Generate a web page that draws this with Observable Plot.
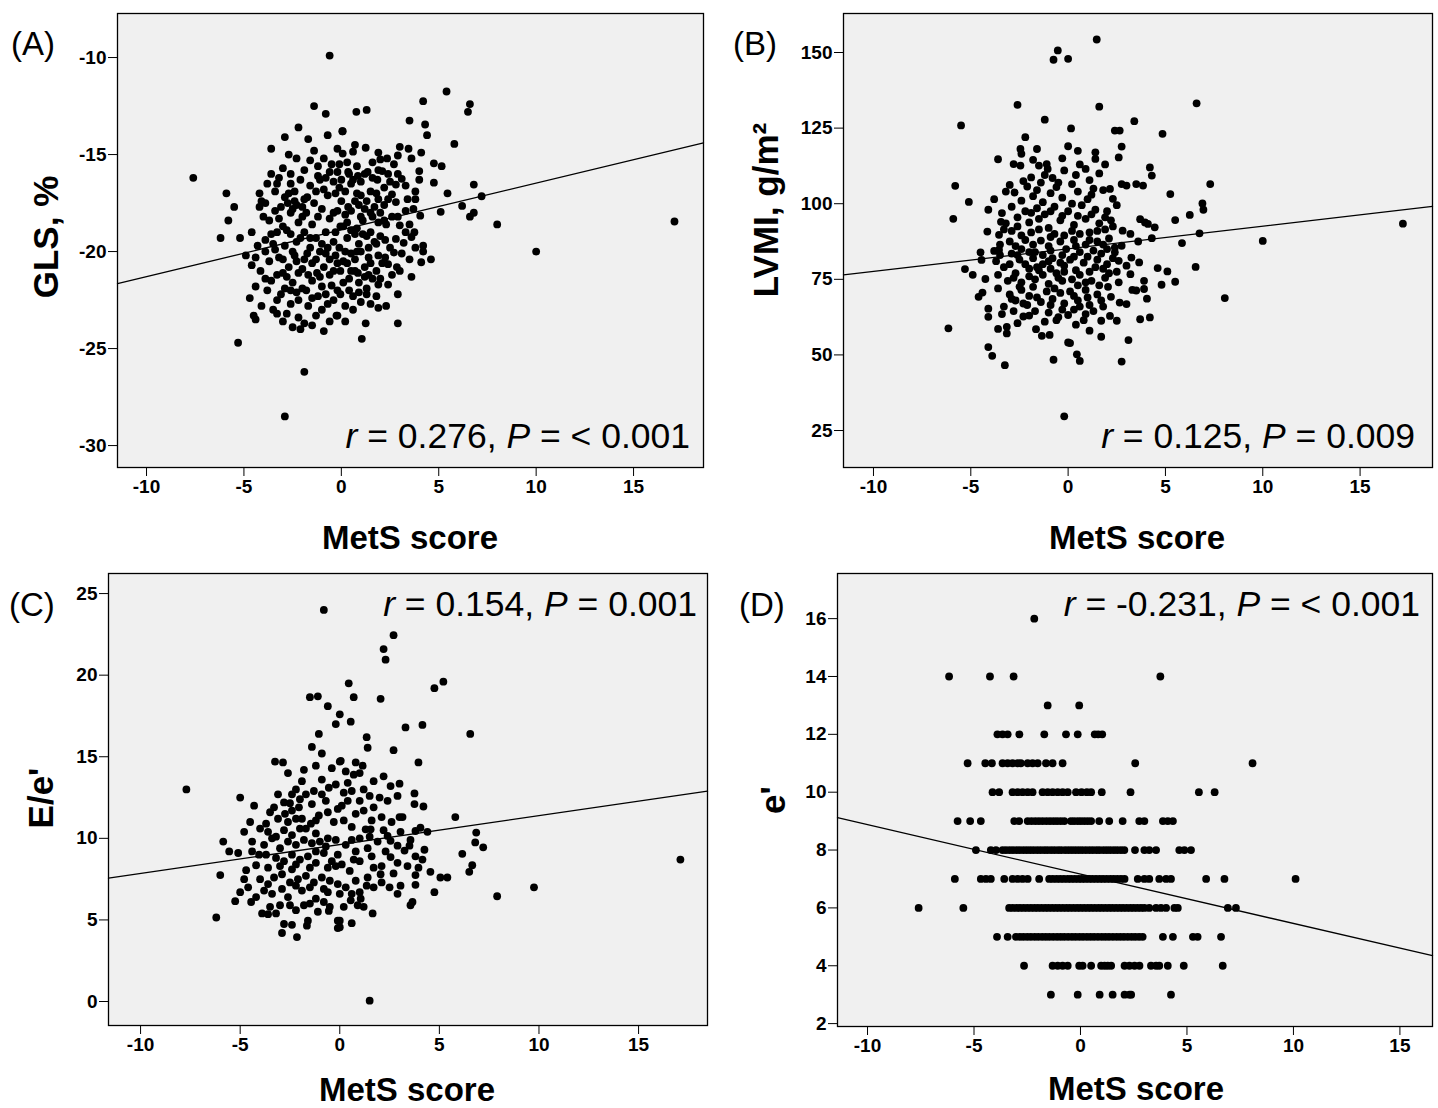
<!DOCTYPE html>
<html>
<head>
<meta charset="utf-8">
<script src="https://cdn.jsdelivr.net/npm/d3@7"></script>
<script src="https://cdn.jsdelivr.net/npm/@observablehq/plot@0.6"></script>
<style>
  body { margin:0; background:#fff; width:1438px; height:1108px; position:relative; overflow:hidden;
         font-family:"Liberation Sans", Arial, sans-serif; color:#000; }
  .panel { position:absolute; }
  .txt { position:absolute; white-space:nowrap; line-height:1; }
  .plab { font-size:33px; }
  .xtitle { font-size:33px; font-weight:bold; transform:translate(-50%,-50%); }
  .ytitle { font-size:35px; font-weight:bold; transform:translate(-50%,-50%) rotate(-90deg); }
  .ann { font-size:35.5px; transform:translate(-100%,-50%); }
</style>
</head>
<body>
<div id="pA" class="panel" style="left:0px;top:0px"></div>
<div id="pB" class="panel" style="left:726px;top:0px"></div>
<div id="pC" class="panel" style="left:0px;top:560px"></div>
<div id="pD" class="panel" style="left:726px;top:560px"></div>

<div class="txt plab" style="left:11px;top:27px">(A)</div>
<div class="txt plab" style="left:733px;top:27px">(B)</div>
<div class="txt plab" style="left:9px;top:588px">(C)</div>
<div class="txt plab" style="left:739px;top:588px">(D)</div>

<div class="txt xtitle" style="left:410px;top:537px">MetS score</div>
<div class="txt xtitle" style="left:1137px;top:537px">MetS score</div>
<div class="txt xtitle" style="left:407px;top:1089px">MetS score</div>
<div class="txt xtitle" style="left:1136px;top:1088px">MetS score</div>

<div class="txt ytitle" style="left:45px;top:237px">GLS, %</div>
<div class="txt ytitle" style="left:765px;top:210px">LVMI, g/m²</div>
<div class="txt ytitle" style="left:40px;top:798px">E/e'</div>
<div class="txt ytitle" style="left:772px;top:800px">e'</div>

<div class="txt ann" style="left:690px;top:437px"><i>r</i> = 0.276, <i>P</i> = &lt; 0.001</div>
<div class="txt ann" style="left:1415px;top:437px"><i>r</i> = 0.125, <i>P</i> = 0.009</div>
<div class="txt ann" style="left:697px;top:605px"><i>r</i> = 0.154, <i>P</i> = 0.001</div>
<div class="txt ann" style="left:1420px;top:605px"><i>r</i> = -0.231, <i>P</i> = &lt; 0.001</div>

<script>
// ---------- DATA: [MetS score, outcome] ----------
const glsPoints = [
[-7.6,-16.2],[-5.9,-17.0],[-5.5,-17.7],[-5.8,-18.4],[-6.2,-19.3],[-5.2,-19.3],[-4.9,-20.2],[-4.6,-20.7],[-4.4,-21.8],[-4.7,-22.4],[-4.5,-23.3],[-4.4,-23.5],[-5.3,-24.7],[-1.9,-26.2],[-2.9,-28.5],
[-0.6,-9.9],[-1.4,-12.5],[-0.8,-12.9],[-2.2,-13.6],[-2.9,-14.1],[-1.7,-14.2],[-3.6,-14.7],[-2.7,-15.0],[-2.3,-15.2],[0.05,-13.8],[-0.2,-14.7],[-0.9,-15.2],[-0.5,-15.5],[-3.6,-16.0],[-3.2,-16.2],[-3.3,-16.5],[-4.2,-17.0],[-4.1,-17.4],[-4.2,-17.7],[-3.1,-17.7],[-2.4,-16.9],[-2.1,-16.3],[-1.2,-16.1],[-2.75,-17.5],[-3.9,-19.4],[-3.3,-19.0],[-3.6,-19.1],
[-4.15,-21.0],[-3.0,-21.1],[-3.1,-22.2],[-3.3,-22.5],[-2.8,-23.2],[-2.5,-23.9],[-2.2,-23.4],[-1.9,-23.7],[-1.5,-23.8],[-1.7,-22.8],[-2.2,-22.5],[-0.7,-22.7],[-0.25,-23.3],[-1.25,-21.1],[-0.8,-20.1],[-1.75,-20.1],[-2.3,-20.5],[-3.7,-20.5],[-3.4,-19.9],[-2.6,-19.1],[-2.0,-18.2],[-1.4,-17.5],[-1.1,-16.3],[-0.7,-17.1],[-0.2,-17.9],[-0.05,-18.7],[-1.75,-17.2],[-3.0,-18.7],[-0.05,-21.0],[-0.5,-21.75],[-0.05,-22.2],
[-2.9,-17.2],[-2.5,-17.8],[-2.2,-18.5],[-1.8,-18.0],[-1.5,-18.6],[-1.0,-17.8],[-0.6,-18.3],[-0.3,-17.0],[-0.4,-16.4],[-0.9,-16.8],[-1.6,-16.6],[-2.6,-16.5],[-3.4,-17.9],[-3.7,-18.4],[-2.8,-18.9],[-2.3,-19.5],[-1.9,-19.0],[-1.3,-19.3],[-0.8,-19.0],[-0.4,-19.5],[-0.1,-19.8],[-0.6,-20.4],[-1.1,-20.0],[-1.5,-20.6],[-2.0,-20.9],[-2.7,-20.8],[-3.2,-20.3],[-3.6,-21.5],[-2.5,-21.6],[-2.0,-21.9],[-1.5,-21.5],[-1.0,-21.8],[-0.6,-21.2],[-0.2,-20.6],[-1.2,-22.3],[-2.6,-22.0],[-3.8,-22.0],[-3.5,-23.0],[-1.0,-23.0],[-0.4,-22.5],[-2.4,-17.4],[-1.2,-15.6],[-1.9,-15.8],[-0.2,-15.9],[-3.0,-15.7],[-2.6,-16.0],[-4.0,-18.2],[-3.9,-20.0],[-4.3,-19.7],[-1.6,-19.8],[-2.4,-20.2],[-0.9,-20.8],[-1.8,-22.0],[-3.0,-23.6],[-2.1,-24.0],[-4.1,-22.8],[-0.9,-24.1],
[5.4,-11.75],[4.2,-12.25],[6.6,-12.4],[6.5,-12.8],[0.77,-12.8],[1.3,-12.7],[3.5,-13.25],[4.3,-13.45],[4.4,-14.0],[0.07,-13.8],[5.8,-14.45],[1.25,-14.65],[3.0,-14.6],[3.45,-14.7],[4.1,-14.9],[2.9,-15.05],[3.6,-15.2],[2.0,-15.25],[2.35,-15.2],[2.7,-15.5],[4.75,-15.45],[5.15,-15.6],[0.6,-14.85],[0.07,-14.95],[2.1,-15.85],[4.0,-15.85],[3.1,-16.25],[4.0,-16.3],[6.8,-16.55],[4.75,-16.45],[2.8,-16.55],[3.8,-16.9],[3.8,-17.3],[5.45,-17.0],[7.2,-17.15],[2.6,-17.05],[2.8,-17.45],[6.2,-17.65],[5.1,-17.95],[3.3,-17.9],[3.7,-17.8],[6.8,-18.0],[6.6,-18.2],[8.0,-18.6],[4.05,-18.15],[3.5,-18.6],[3.0,-18.65],[3.75,-19.0],[3.6,-19.25],[2.25,-19.4],[2.8,-19.35],[3.2,-19.55],[3.8,-19.8],[4.2,-19.7],[4.2,-20.0],[2.7,-20.05],[3.1,-20.1],[2.25,-20.3],[4.1,-20.55],[4.6,-20.4],[2.85,-20.8],[3.0,-21.0],[2.4,-20.65],[1.8,-21.0],[2.6,-21.2],[2.4,-21.7],[1.9,-21.7],[1.3,-21.9],[1.3,-22.2],[1.8,-22.3],[1.9,-22.9],[0.2,-22.8],[-0.2,-23.3],[1.25,-23.7],[2.9,-23.7],[1.05,-24.5],[1.4,-21.2],[0.85,-21.1],[0.5,-21.0],[0.1,-20.5],[0.5,-20.1],[1.0,-20.0],[1.5,-20.6],[1.7,-19.5],[1.3,-19.2],[0.7,-19.1],[0.1,-18.7],[1.9,-18.5],[2.2,-18.4],[1.0,-18.2],[1.5,-18.0],[2.2,-17.6],[1.9,-17.3],[1.5,-16.9],[1.0,-17.1],[0.5,-16.5],[0.0,-16.3],[1.85,-16.3],[2.2,-16.7],[1.35,-15.9],[0.85,-16.1],[0.35,-15.9],[-0.1,-15.5],[0.7,-17.4],[0.35,-17.7],[1.2,-17.8],
[0.3,-15.4],[0.8,-15.6],[1.6,-15.4],[0.4,-16.0],[1.0,-16.4],[1.6,-16.2],[2.4,-16.0],[0.2,-16.9],[0.8,-17.0],[1.3,-17.4],[1.8,-17.0],[2.4,-17.3],[0.0,-17.4],[0.5,-17.9],[1.1,-18.4],[1.6,-18.2],[2.0,-18.0],[2.6,-18.2],[0.3,-18.5],[0.8,-18.8],[1.5,-19.0],[2.0,-19.2],[0.3,-19.3],[0.9,-19.6],[1.4,-19.8],[1.9,-20.2],[0.2,-20.0],[0.7,-20.4],[1.2,-20.8],[0.4,-21.4],[0.9,-21.6],[1.6,-21.4],[0.6,-22.3],[1.0,-22.6],[0.2,-23.6],[2.3,-22.8],
[-2.7,-17.0],[-2.3,-17.6],[-1.9,-17.3],[-1.3,-16.9],[-0.8,-16.2],[-0.1,-16.7],[0.6,-16.3],[1.2,-16.0],[1.9,-15.8],[2.5,-16.4],[-3.2,-18.3],[-2.6,-18.0],[-2.0,-17.7],[-1.2,-18.2],[-0.4,-18.0],[0.2,-18.1],[0.9,-17.6],[1.7,-17.7],[2.3,-18.6],[-3.5,-19.6],[-2.9,-19.7],[-2.1,-19.3],[-1.6,-19.3],[-1.0,-19.6],[-0.3,-19.0],[0.5,-18.9],[1.1,-19.1],[1.8,-19.6],[2.5,-19.8],[-3.0,-20.4],[-2.5,-20.0],[-1.9,-20.4],[-1.3,-20.4],[-0.7,-19.8],[-0.3,-20.2],[0.3,-20.6],[0.8,-20.0],[1.4,-20.3],[2.1,-20.6],[-3.3,-21.2],[-2.8,-21.3],[-2.2,-21.1],[-1.7,-21.2],[-1.1,-21.3],[-0.4,-21.0],[0.1,-21.6],[0.7,-21.0],[1.2,-21.3],[2.0,-21.4],[-2.9,-21.9],[-2.3,-22.1],[-1.5,-22.4],[-0.8,-22.2],[-0.2,-22.0],[0.4,-22.0],[0.9,-22.1],[1.5,-22.7],[-3.3,-23.2],[-2.6,-22.7],[-1.3,-23.3],[-0.6,-23.6],[0.6,-23.0],[-3.8,-16.5],[-3.9,-17.5],[-3.4,-16.9],[-1.6,-15.3],[-0.6,-15.9],[0.7,-14.5],[1.9,-14.9],[-1.4,-14.8],[-0.7,-14.0],[2.9,-16.0],[3.3,-16.6],[3.4,-17.3],[2.9,-18.2],[3.3,-19.0],[3.5,-20.4],[3.6,-21.3],[2.9,-22.2],[-4.6,-19.0],[-4.4,-20.3],[-3.9,-21.4],
[10.0,-20.0],[17.1,-18.45]
];

const lvmiPoints = [
[-0.53,150.7],[-0.75,147.6],[0.0,147.9],[1.47,154.3],[-2.6,132.7],[-5.5,125.9],[-1.2,127.8],[-2.2,122.0],[-2.45,118.1],[-2.4,116.5],[-1.6,118.1],[-3.6,114.7],[-2.8,113.1],[-2.45,112.6],[-1.5,112.6],[-1.1,113.1],[-1.05,111.5],[-1.9,108.7],[-1.4,107.0],[-3.0,106.2],[-3.2,104.0],[-2.1,105.7],[-2.75,103.7],[-5.8,105.9],[-5.1,100.6],[-5.9,95.0],[-4.1,98.0],[-3.4,96.9],[-3.45,94.0],[-4.15,90.8],[-3.55,89.7],[-4.5,83.9],[-4.45,81.4],[-3.8,84.4],[-3.55,84.7],[-5.3,78.4],[-4.9,76.5],[-4.25,75.1],[-4.6,69.2],[-4.4,70.6],[-4.1,65.3],[-4.1,62.6],[-6.15,58.8],[-3.6,58.6],[-3.15,59.3],[-3.15,57.1],[-4.1,52.6],[-3.9,49.7],[-3.25,46.6],[-0.75,48.4],[-0.2,29.7],[-1.65,58.5],[-1.35,56.3],[-0.95,56.6],[-2.3,62.7],[0.0,54.1],[0.0,63.2],[-0.6,61.5],
[-3.0,70.0],[-2.7,68.0],[-2.4,71.5],[-2.1,66.5],[-3.3,66.0],[-2.8,64.5],[-2.0,69.5],[-3.6,72.0],
[-3.2,93.5],[-2.6,92.5],[-2.0,93.8],[-1.5,95.0],[-1.0,92.0],[-2.4,85.0],[-1.7,84.0],[-1.0,86.0],[-0.4,87.5],
[-3.3,79.0],[-2.7,77.0],[-2.0,78.5],[-1.3,80.0],[-0.6,77.0],[-0.2,79.5],
[1.6,132.1],[6.6,133.2],[3.4,127.3],[4.85,123.1],[0.15,124.9],[2.4,124.2],[2.65,124.2],[2.75,118.9],[2.6,115.3],[0.0,119.0],[0.5,117.5],[1.4,117.0],[1.4,114.8],[4.2,112.0],[4.3,109.3],[7.3,106.5],[2.75,106.5],[3.0,106.0],[3.5,106.5],[3.85,106.0],[5.25,103.2],[2.15,104.9],[2.3,101.6],[6.9,100.1],[6.95,98.0],[6.25,96.3],[5.5,94.6],[3.7,94.9],[3.95,93.8],[4.1,93.3],[4.45,92.2],[2.8,91.1],[3.2,90.0],[6.75,90.2],[4.3,88.6],[3.6,87.5],[5.85,87.0],[2.75,86.1],[2.4,83.9],[2.6,81.1],[3.25,82.2],[3.0,79.5],[3.2,76.7],[3.65,80.6],[4.6,78.7],[5.1,77.6],[6.55,79.1],[4.8,73.2],[5.5,74.2],[8.05,68.8],[3.9,74.5],[3.9,71.8],[3.3,71.5],[3.5,71.3],[4.05,68.6],[2.65,67.3],[3.0,66.8],[2.05,72.5],[2.2,69.2],[3.7,61.8],[4.2,62.4],[2.5,61.3],[2.15,62.9],[1.7,61.3],[1.7,56.0],[3.1,54.9],[0.1,53.9],[0.45,50.2],[0.6,48.0],[2.75,47.8],[10.0,87.7],[17.2,93.4],
[-0.8,108.5],[0.4,109.5],[1.1,107.8],[-0.2,111.0],[0.9,111.5],[1.6,110.0],
[-1.8,102.5],[-0.9,103.5],[-0.3,102.0],[0.5,104.0],[1.2,103.0],[1.8,104.5],[-2.4,101.0],[-1.3,100.5],
[-2.9,99.0],[-2.2,97.5],[-1.6,98.5],[-0.7,99.0],[0.0,97.5],[0.7,99.5],[1.4,98.0],[2.0,97.5],[2.5,99.5],[-3.8,101.5],
[-0.4,94.5],[0.3,93.0],[0.9,95.0],[1.6,93.5],[2.2,94.5],[-2.9,91.0],[-1.9,90.5],[-0.7,90.0],[0.2,91.0],[1.1,90.5],[1.9,91.5],
[-3.0,87.5],[-2.2,88.0],[-1.4,87.8],[0.3,88.0],[0.9,86.5],[1.5,87.5],[2.1,88.5],[-0.1,85.0],[0.6,84.0],[1.3,84.5],[2.0,85.0],[-1.3,83.0],[-2.9,83.5],
[-3.7,81.0],[-2.5,81.5],[-1.8,82.0],[-0.8,82.0],[0.1,81.5],[0.8,80.5],[1.5,81.5],[2.0,80.0],[-1.5,78.0],[0.4,78.0],[1.1,77.5],[1.8,78.5],[2.5,77.5],
[-3.1,74.5],[-2.4,74.0],[-1.7,75.0],[-1.0,73.5],[-0.3,74.5],[0.5,73.0],[1.2,74.5],[1.9,75.5],[2.6,74.0],[-0.7,72.0],[0.1,71.0],[0.9,71.5],[1.5,70.0],
[-1.4,67.5],[-0.8,68.5],[-0.2,67.0],[0.5,68.0],[1.1,66.5],[1.8,66.0],[-1.7,64.5],[-1.0,64.0],[0.3,65.0],[0.9,63.5],[-2.6,60.5],[-1.2,61.0],[0.4,60.0],[1.1,58.0],
[-2.3,107.5],[-1.6,104.5],[-0.6,105.5],[0.2,106.5],[1.3,105.0],[-2.6,95.5],[-1.2,96.5],[-0.3,96.0],[0.5,96.0],[1.2,96.5],[1.9,95.5],[-3.3,91.5],[-2.4,89.5],[-1.5,91.5],[-0.9,89.0],[-0.2,89.5],[0.6,90.0],[1.5,91.0],[2.3,92.5],[-3.5,86.5],[-2.7,86.0],[-1.8,86.5],[-0.9,84.5],[-0.3,83.0],[0.4,86.0],[1.1,88.0],[1.8,86.5],[2.4,85.5],[-3.5,83.0],[-2.6,83.0],[-2.0,84.0],[-1.0,81.0],[-0.4,80.5],[0.3,82.5],[1.0,82.5],[1.7,83.5],[2.3,82.0],[-3.0,80.0],[-2.2,80.0],[-1.6,79.0],[-0.9,78.5],[-0.2,77.5],[0.6,76.5],[1.4,79.0],[2.1,77.0],[-3.6,76.5],[-2.8,75.5],[-2.0,76.0],[-1.3,76.5],[-0.5,75.5],[0.2,75.0],[0.9,74.0],[1.6,73.0],[-2.5,72.5],[-1.8,72.5],[-1.1,71.0],[-0.4,70.5],[0.3,69.5],[1.0,69.0],[1.7,68.0],[-2.9,68.5],[-2.3,67.0],[-1.6,69.0],[-0.9,66.5],[-0.3,65.0],[0.6,66.0],[1.3,64.5],[-3.4,63.5],[-2.0,63.0],[-0.5,62.5],[0.8,61.5],[-1.9,97.0],[-0.9,97.5],[0.2,100.0],[1.0,101.5],[-0.5,107.0],[-1.2,109.5],[0.6,113.0],[-0.3,115.0],[1.9,113.0],[-1.8,114.5]
];

const eeRatioPoints = [
[-0.8,24.0],[-1.5,18.65],[-1.1,18.7],[-0.6,18.1],[0.0,17.6],[-0.2,17.0],[-1.05,16.4],[-1.4,15.6],[-0.9,15.2],[-1.2,14.45],[-3.25,14.7],[-2.85,14.65],[-0.4,14.3],[0.0,14.7],[-5.0,12.5],[-3.1,12.7],[-2.4,12.7],[-1.7,12.7],[-1.3,12.9],[-0.9,12.7],[-0.55,13.1],[-0.2,13.3],[-2.8,12.2],[-2.5,12.15],[-2.05,11.9],[-3.5,11.6],[-2.75,11.5],[-2.4,11.7],[-4.5,11.0],[-3.7,10.9],[-1.9,11.2],[-1.45,10.9],[-1.05,11.4],[-0.6,11.6],[-5.85,9.8],[-5.55,9.2],[-6.0,7.75],[-4.7,8.05],[-4.05,9.0],[-4.2,8.35],
[-3.6,10.4],[-3.2,10.1],[-2.8,10.5],[-2.4,10.2],[-2.0,10.6],[-1.2,10.3],[-0.6,10.0],
[-3.2,8.8],[-2.8,8.6],[-2.4,9.0],[-2.0,8.7],[-1.6,8.9],[-1.2,8.5],[-0.8,9.1],[-0.4,8.6],[-0.1,9.0],
[-4.0,7.5],[-3.6,7.2],[-3.3,7.6],[-2.9,7.8],[-2.5,7.3],[-2.1,7.5],[-1.7,7.7],[-1.3,7.3],[-0.9,7.6],[-0.5,7.4],[-0.1,7.2],
[-5.25,6.15],[-4.45,6.1],[-4.2,6.4],[-3.9,5.4],[-3.6,5.35],[-3.2,5.4],[-3.5,5.8],[-3.0,5.9],[-2.2,5.6],[-1.8,5.9],[-1.1,5.5],[-0.5,5.8],[-2.8,4.75],[-2.4,4.7],[-1.65,4.65],[-1.6,4.95],[-2.9,4.2],[-2.15,3.95],[-6.2,5.15],[0.0,4.95],[0.0,4.55],[-0.55,5.55],
[-3.8,9.6],[-3.0,9.4],[-2.2,9.6],[-1.4,9.7],[-0.7,9.5],[-2.6,11.0],[-1.7,10.6],[-0.3,11.0],[-3.1,11.2],[-4.4,9.8],[-4.8,10.4],[-3.4,6.6],[-2.6,6.4],[-1.9,6.8],[-1.2,6.3],[-0.6,6.7],[-4.6,7.0],[-2.4,8.1],[-1.5,8.2],[-0.6,8.2],[-3.6,8.2],
[2.7,22.45],[2.2,21.6],[2.3,20.95],[5.2,19.6],[4.75,19.2],[0.45,19.5],[0.7,18.65],[2.05,18.55],[0.55,17.15],[3.3,16.8],[4.15,16.95],[6.55,16.4],[1.35,16.2],[1.4,15.55],[2.7,15.4],[3.95,14.65],[0.05,14.75],[0.8,14.65],[1.15,14.45],[0.3,14.1],[0.7,13.9],[1.7,13.5],[2.2,13.8],[2.55,13.2],[3.0,13.35],[3.75,12.75],[3.75,12.1],[4.2,11.95],[1.2,13.0],[1.5,12.6],[2.0,12.5],[2.4,12.3],[2.9,12.6],[0.4,12.3],[0.8,11.5],[1.2,11.7],[1.7,11.9],[2.1,11.3],[3.0,11.3],[3.15,11.3],[5.8,11.3],[1.3,10.55],[1.55,10.55],[3.05,10.4],[4.05,10.65],[3.8,10.45],[4.4,10.4],[6.85,10.35],[6.8,9.75],[7.2,9.45],[2.4,10.15],[2.55,9.85],[2.9,9.55],[3.55,9.9],[3.5,9.55],[4.25,9.3],[3.8,8.9],[4.15,8.7],[3.25,9.25],[2.55,8.85],[2.9,8.5],[3.4,8.3],[6.15,9.05],[6.65,8.35],[6.5,7.95],[4.55,7.95],[3.95,8.2],[3.8,7.75],[5.05,7.6],[5.4,7.6],[2.7,7.85],[2.05,7.8],[1.7,8.2],[1.35,7.1],[1.7,7.0],[2.5,7.0],[3.05,7.1],[3.8,7.15],[2.9,6.6],[4.75,6.7],[7.9,6.45],[3.65,6.1],[3.55,5.9],[1.65,5.4],[-0.1,4.95],[-0.1,4.5],[0.6,4.8],[0.9,5.9],[1.05,6.3],[0.55,6.2],[1.5,0.05],[9.75,7.0],[17.1,8.7],[-7.7,13.0],
[0.2,12.8],[0.6,12.9],[0.2,11.1],[0.6,10.7],[1.0,10.0],[0.3,9.6],[0.8,9.2],[1.4,9.4],[1.9,9.8],[0.1,8.4],[0.5,8.0],[1.0,8.6],[2.1,8.3],[0.3,7.0],[0.8,7.4],[1.0,6.7],
[-3.4,10.0],[-2.6,9.8],[-1.8,9.9],[-1.0,9.8],[-0.2,9.9],[0.6,9.9],[1.5,10.1],[2.2,10.5],[-3.0,8.3],[-2.2,8.4],[-1.2,9.2],[-0.2,8.3],[0.7,8.7],[1.6,8.9],[2.3,9.2],[-3.8,6.8],[-2.9,6.9],[-2.2,7.1],[-1.5,7.0],[-0.8,6.9],[0.0,6.6],[0.6,6.6],[1.4,7.6],[2.1,7.3],[-2.5,5.9],[-1.5,6.0],[-0.8,6.1],[0.2,5.8],[1.2,5.8],[-2.0,12.4],[-1.4,12.1],[-0.7,12.3],[0.1,12.0],[1.0,12.3],[-3.3,11.9],[-2.2,11.2],[-1.2,11.1],[-0.1,11.8],[1.6,11.1],[2.6,11.0],[-1.9,13.5],[-0.9,13.6],[0.4,13.4],[1.0,14.0],[-2.2,13.0],[-4.3,12.0],[-4.0,10.6],[-5.1,9.1],[-4.4,9.2],[-3.7,9.0],[-4.8,7.5],[-5.0,6.7],[-2.6,14.0],[-1.8,14.2]
];

const ePrimePoints = [
[-2.17,16],
[-6.17,14],[-4.25,14],[-3.14,14],[3.75,14],
[-1.54,13],[-0.06,13],
[-3.9,12],[-3.66,12],[-3.42,12],[-2.87,12],[-1.7,12],[-0.68,12],[-0.13,12],[0.67,12],[0.83,12],[1.02,12],
[-5.3,11],[-4.47,11],[-4.16,11],[-3.66,11],[-3.42,11],[-3.19,11],[-2.95,11],[-2.8,11],[-2.48,11],[-2.25,11],[-2.01,11],[-1.62,11],[-1.31,11],[-0.84,11],[2.57,11],[8.08,11],
[-4.13,10],[-3.82,10],[-3.19,10],[-2.95,10],[-2.72,10],[-2.48,10],[-2.25,10],[-1.78,10],[-1.54,10],[-1.31,10],[-1.07,10],[-0.84,10],[-0.6,10],[-0.21,10],[0.05,10],[0.3,10],[0.5,10],[1.0,10],[2.35,10],[5.56,10],[6.3,10],
[-5.77,9],[-5.18,9],[-4.68,9],[-3.11,9],[-2.88,9],[-2.48,9],[-2.3,9],[-2.12,9],[-1.95,9],[-1.78,9],[-1.6,9],[-1.43,9],[-1.26,9],[-1.1,9],[-0.93,9],[-0.76,9],[-0.45,9],[-0.3,9],[-0.13,9],[0.02,9],[0.18,9],[0.34,9],[0.5,9],[0.88,9],[1.35,9],[1.98,9],[2.76,9],[3.0,9],[3.87,9],[4.1,9],[4.34,9],
[-4.91,8],[-4.21,8],[-3.97,8],[-3.66,8],[-3.5,8],[-3.33,8],[-3.17,8],[-3.0,8],[-2.85,8],[-2.68,8],[-2.52,8],[-2.36,8],[-2.2,8],[-2.03,8],[-1.87,8],[-1.7,8],[-1.55,8],[-1.38,8],[-1.22,8],[-1.05,8],[-0.9,8],[-0.72,8],[-0.56,8],[-0.4,8],[-0.24,8],[-0.08,8],[0.08,8],[0.25,8],[0.42,8],[0.58,8],[0.75,8],[0.9,8],[1.08,8],[1.24,8],[1.4,8],[1.57,8],[1.73,8],[1.9,8],[2.06,8],[2.56,8],[3.0,8],[3.23,8],[3.55,8],[4.64,8],[4.88,8],[5.19,8],
[-5.9,7],[-4.68,7],[-4.44,7],[-4.21,7],[-3.58,7],[-3.19,7],[-2.95,7],[-2.72,7],[-2.48,7],[-1.94,7],[-1.47,7],[-1.3,7],[-1.12,7],[-0.95,7],[-0.78,7],[-0.6,7],[-0.44,7],[-0.27,7],[-0.1,7],[0.06,7],[0.22,7],[0.4,7],[0.56,7],[0.73,7],[0.9,7],[1.06,7],[1.23,7],[1.4,7],[1.56,7],[1.73,7],[1.9,7],[2.07,7],[2.69,7],[3.0,7],[3.23,7],[3.7,7],[4.02,7],[4.25,7],[5.9,7],[6.76,7],[10.1,7],
[-7.6,6],[-5.5,6],[-3.35,6],[-3.18,6],[-3.0,6],[-2.84,6],[-2.67,6],[-2.5,6],[-2.33,6],[-2.16,6],[-2.0,6],[-1.83,6],[-1.66,6],[-1.5,6],[-1.33,6],[-1.16,6],[-1.0,6],[-0.83,6],[-0.66,6],[-0.5,6],[-0.33,6],[-0.16,6],[0.0,6],[0.17,6],[0.34,6],[0.5,6],[0.67,6],[0.84,6],[1.0,6],[1.17,6],[1.34,6],[1.5,6],[1.67,6],[1.84,6],[2.0,6],[2.17,6],[2.34,6],[2.5,6],[2.67,6],[2.84,6],[3.0,6],[3.23,6],[3.55,6],[3.78,6],[4.02,6],[4.41,6],[4.57,6],[6.92,6],[7.3,6],
[-3.92,5],[-3.42,5],[-3.03,5],[-2.85,5],[-2.68,5],[-2.5,5],[-2.33,5],[-2.15,5],[-1.98,5],[-1.8,5],[-1.63,5],[-1.46,5],[-1.28,5],[-1.1,5],[-0.93,5],[-0.76,5],[-0.58,5],[-0.4,5],[-0.23,5],[-0.05,5],[0.12,5],[0.3,5],[0.47,5],[0.64,5],[0.82,5],[1.0,5],[1.17,5],[1.34,5],[1.52,5],[1.7,5],[1.87,5],[2.04,5],[2.22,5],[2.4,5],[2.57,5],[2.75,5],[2.92,5],[3.87,5],[4.34,5],[5.28,5],[5.5,5],[6.6,5],
[-2.65,4],[-1.31,4],[-1.07,4],[-0.84,4],[-0.6,4],[-0.06,4],[0.1,4],[0.5,4],[0.97,4],[1.13,4],[1.28,4],[1.44,4],[2.07,4],[2.3,4],[2.54,4],[2.77,4],[3.31,4],[3.55,4],[3.7,4],[4.1,4],[4.85,4],[6.68,4],
[-1.39,3],[-0.13,3],[0.9,3],[1.51,3],[2.07,3],[2.3,3],[2.38,3],[4.25,3]
];

// Fitted regression lines: [intercept, slope]
const glsFit = [-18.88, 0.241];
const lvmiFit = [85.09, 0.7485];
const eeRatioFit = [9.62, 0.1773];
const ePrimeFit = [7.17, -0.1707];

// Tick values
const xTicks = [-10, -5, 0, 5, 10, 15];
const glsTicks = [-30, -25, -20, -15, -10];
const lvmiTicks = [25, 50, 75, 100, 125, 150];
const eeRatioTicks = [0, 5, 10, 15, 20, 25];
const ePrimeTicks = [2, 4, 6, 8, 10, 12, 14, 16];

function makePanel(cfg) {
  const fitLine = cfg.xDomain.map(x => ({x, y: cfg.fit[0] + cfg.fit[1] * x}));
  return Plot.plot({
    width: cfg.width, height: cfg.height,
    marginLeft: cfg.ml, marginRight: cfg.mr, marginTop: cfg.mt, marginBottom: cfg.mb,
    style: {
      fontFamily: '"Liberation Sans Narrow","Arial Narrow","Liberation Sans",Arial,sans-serif',
      fontSize: "19px", fontWeight: "bold", background: "transparent", color: "black", overflow: "visible"
    },
    x: {domain: cfg.xDomain, ticks: xTicks, tickSize: 9, tickPadding: 3, tickFormat: d => String(d), label: null},
    y: {domain: cfg.yDomain, ticks: cfg.yTicks, tickSize: 9, tickPadding: 2, tickFormat: d => String(d), label: null},
    marks: [
      Plot.frame({fill: "#f0f0f0"}),
      Plot.dot(cfg.data, {x: d => d[0], y: d => d[1], r: 3.9, fill: "black", stroke: "none"}),
      Plot.line(fitLine, {x: "x", y: "y", stroke: "black", strokeWidth: 1.3}),
      Plot.frame({stroke: "black", strokeWidth: 1.3})
    ]
  });
}

document.getElementById("pA").append(makePanel({
  width: 720, height: 560, ml: 117, mr: 17, mt: 13, mb: 93,
  xDomain: [-11.49, 18.59], yDomain: [-31.13, -7.73], yTicks: glsTicks, data: glsPoints, fit: glsFit
}));
document.getElementById("pB").append(makePanel({
  width: 712, height: 560, ml: 117, mr: 6, mt: 13, mb: 93,
  xDomain: [-11.54, 18.72], yDomain: [12.77, 162.9], yTicks: lvmiTicks, data: lvmiPoints, fit: lvmiFit
}));
document.getElementById("pC").append(makePanel({
  width: 720, height: 548, ml: 108, mr: 13, mt: 13, mb: 83,
  xDomain: [-11.61, 18.46], yDomain: [-1.47, 26.23], yTicks: eeRatioTicks, data: eeRatioPoints, fit: eeRatioFit
}));
document.getElementById("pD").append(makePanel({
  width: 712, height: 548, ml: 111, mr: 6, mt: 13, mb: 82,
  xDomain: [-11.41, 16.53], yDomain: [1.9, 17.56], yTicks: ePrimeTicks, data: ePrimePoints, fit: ePrimeFit
}));
</script>
</body>
</html>
